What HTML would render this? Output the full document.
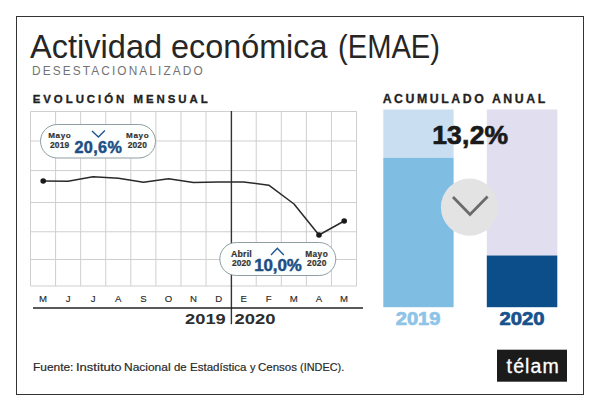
<!DOCTYPE html>
<html><head><meta charset="utf-8">
<style>
html,body{margin:0;padding:0;background:#fff;}
body{width:600px;height:400px;position:relative;overflow:hidden;font-family:"Liberation Sans",sans-serif;}
.frame{position:absolute;left:16px;top:16px;width:566px;height:377px;border:1.2px solid #333;}
.t{position:absolute;white-space:nowrap;line-height:1;}
</style></head><body>
<div class="frame"></div>
<div class="t" style="left:30.1px;top:30.71px;font-size:32.75px;color:#262626;transform:scaleX(0.994);transform-origin:0 0;">Actividad</div>
<div class="t" style="left:170.7px;top:30.71px;font-size:32.75px;color:#262626;transform:scaleX(0.988);transform-origin:0 0;">económica</div>
<div class="t" style="left:338.25px;top:30.71px;font-size:32.75px;color:#262626;transform:scaleX(0.89);transform-origin:0 0;">(EMAE)</div>
<div class="t" id="sub" style="left:31.98px;top:65.06px;font-size:12.75px;letter-spacing:2.270px;font-weight:normal;color:#737373;transform:scaleX(0.93);transform-origin:0 0;">DESESTACIONALIZADO</div>
<div class="t" id="evo" style="left:32.70px;top:94.09px;font-size:11.45px;letter-spacing:2.954px;font-weight:bold;color:#222;-webkit-text-stroke:0.3px #222;">EVOLUCIÓN MENSUAL</div>
<div class="t" id="acu" style="left:382.63px;top:93.16px;font-size:12.32px;letter-spacing:2.561px;font-weight:bold;color:#222;-webkit-text-stroke:0.3px #222;">ACUMULADO ANUAL</div>

<svg width="600" height="400" style="position:absolute;left:0;top:0">
  <g stroke="#cfcfcf" stroke-width="1" fill="none">
    <path d="M30.5 111.5H356.6M30.5 141H356.6M30.5 170.6H356.6M30.5 202.5H356.6M30.5 231.75H356.6M30.5 259.5H356.6M30.5 286H356.6"/>
    <path d="M30.50 111.5V286M55.58 111.5V286M80.66 111.5V286M105.74 111.5V286M130.82 111.5V286M155.90 111.5V286M180.98 111.5V286M206.06 111.5V286M256.22 111.5V286M281.30 111.5V286M306.38 111.5V286M331.46 111.5V286M356.54 111.5V286"/>
  </g>
  <path d="M231.4 111V324.2" stroke="#333" stroke-width="1.4"/>
  <path d="M33 308H363" stroke="#222" stroke-width="1.6"/>
  <polyline fill="none" stroke="#2a2a2a" stroke-width="1.5" stroke-linejoin="round" points="43.2,181 68,181.2 93,176.7 118.5,178.3 143.5,182.2 168.5,178.7 193.5,182.6 218.5,182 243.5,182 268.8,185.2 294,204 319,235 344.2,221"/>
  <circle cx="43.2" cy="181" r="2.8" fill="#1a1a1a"/>
  <circle cx="319" cy="235" r="2.8" fill="#1a1a1a"/>
  <circle cx="344.2" cy="221" r="2.8" fill="#1a1a1a"/>
  <rect x="40.5" y="124.5" width="115" height="33.5" rx="16.75" fill="#fdfefe" stroke="#8e9ea2" stroke-width="1"/>
  <rect x="219.8" y="242.5" width="116" height="33" rx="16.5" fill="#fdfefe" stroke="#8e9ea2" stroke-width="1"/>
  <path d="M92 131L98.4 137L104.9 130.5" fill="none" stroke="#1f5790" stroke-width="1.4"/>
  <path d="M271 255L277.3 248.2L283.8 255" fill="none" stroke="#1f5790" stroke-width="1.4"/>
  <rect x="383.3" y="109.5" width="70.3" height="48.3" fill="#c9dff1"/>
  <rect x="383.3" y="157.8" width="70.3" height="149.4" fill="#7fbde2"/>
  <rect x="486.8" y="109.5" width="70.5" height="146" fill="#e0deef"/>
  <rect x="486.8" y="255.5" width="70.5" height="51.7" fill="#0c4e8a"/>
  <circle cx="469.5" cy="207.2" r="28.6" fill="#e3e3e3"/>
  <path d="M453 197L470 214.4L487.6 196.4" fill="none" stroke="#6b6b6b" stroke-width="2.8"/>
  <rect x="497" y="349.7" width="70" height="32" fill="#1b1b1b"/>
</svg>
<div class="t" id="m1" style="left:48.18px;top:132.40px;font-size:8.12px;letter-spacing:0.622px;font-weight:bold;color:#333;-webkit-text-stroke:0.2px #333;">Mayo</div>
<div class="t" id="y1" style="left:50.00px;top:140.98px;font-size:8.45px;letter-spacing:0.165px;font-weight:bold;color:#333;-webkit-text-stroke:0.2px #333;">2019</div>
<div class="t" id="m1r" style="left:125.93px;top:132.40px;font-size:8.12px;letter-spacing:0.705px;font-weight:bold;color:#333;-webkit-text-stroke:0.2px #333;">Mayo</div>
<div class="t" id="y1r" style="left:127.75px;top:140.98px;font-size:8.45px;letter-spacing:0.111px;font-weight:bold;color:#333;-webkit-text-stroke:0.2px #333;">2020</div>
<div class="t" id="p1" style="left:74.51px;top:139.44px;font-size:16.20px;letter-spacing:0.368px;font-weight:bold;color:#1c4f85;-webkit-text-stroke:0.5px #1c4f85;">20,6%</div>

<div class="t" id="ab" style="left:230.99px;top:249.84px;font-size:8.82px;letter-spacing:0.191px;font-weight:bold;color:#333;-webkit-text-stroke:0.2px #333;">Abril</div>
<div class="t" id="y2" style="left:232.00px;top:258.98px;font-size:8.45px;letter-spacing:0.027px;font-weight:bold;color:#333;-webkit-text-stroke:0.2px #333;">2020</div>
<div class="t" id="m2" style="left:305.17px;top:250.95px;font-size:8.26px;letter-spacing:0.503px;font-weight:bold;color:#333;-webkit-text-stroke:0.2px #333;">Mayo</div>
<div class="t" id="y2r" style="left:307.00px;top:258.98px;font-size:8.45px;letter-spacing:0.194px;font-weight:bold;color:#333;-webkit-text-stroke:0.2px #333;">2020</div>
<div class="t" id="p2" style="left:254.24px;top:258.21px;font-size:16.90px;letter-spacing:-0.088px;font-weight:bold;color:#1c4f85;-webkit-text-stroke:0.5px #1c4f85;">10,0%</div>

<div class="t" id="big" style="left:432.16px;top:121.88px;font-size:26.48px;letter-spacing:0.234px;font-weight:bold;color:#1a1a1a;-webkit-text-stroke:0.7px #1a1a1a;">13,2%</div>
<div class="t" id="bar2019" style="left:395.72px;top:310.19px;font-size:20.14px;letter-spacing:0.000px;font-weight:bold;color:#8dc4e7;transform:scaleY(0.8744);transform-origin:0 0;-webkit-text-stroke:0.8px #8dc4e7;">2019</div>
<div class="t" id="bar2020" style="left:499.45px;top:309.50px;font-size:20.23px;letter-spacing:0.000px;font-weight:bold;color:#17528d;transform:scaleY(0.9051);transform-origin:0 0;-webkit-text-stroke:0.8px #17528d;">2020</div>
<div class="t" id="ax2019" style="left:185.06px;top:312.41px;font-size:18.29px;letter-spacing:0.000px;font-weight:bold;color:#2e2e2e;transform:scaleY(0.8086);transform-origin:0 0;-webkit-text-stroke:0.0px #2e2e2e;">2019</div>
<div class="t" id="ax2020" style="left:234.56px;top:312.41px;font-size:18.47px;letter-spacing:0.000px;font-weight:bold;color:#2e2e2e;transform:scaleY(0.8008);transform-origin:0 0;-webkit-text-stroke:0.0px #2e2e2e;">2020</div>

<div id="months" style="position:absolute;left:0;top:294.2px;font-size:9.6px;font-weight:normal;color:#2a2a2a;-webkit-text-stroke:0.15px #2a2a2a;"><div style="position:absolute;left:33.04px;width:20px;text-align:center;line-height:1;">M</div><div style="position:absolute;left:58.12px;width:20px;text-align:center;line-height:1;">J</div><div style="position:absolute;left:83.20px;width:20px;text-align:center;line-height:1;">J</div><div style="position:absolute;left:108.28px;width:20px;text-align:center;line-height:1;">A</div><div style="position:absolute;left:133.36px;width:20px;text-align:center;line-height:1;">S</div><div style="position:absolute;left:158.44px;width:20px;text-align:center;line-height:1;">O</div><div style="position:absolute;left:183.52px;width:20px;text-align:center;line-height:1;">N</div><div style="position:absolute;left:208.60px;width:20px;text-align:center;line-height:1;">D</div><div style="position:absolute;left:233.68px;width:20px;text-align:center;line-height:1;">E</div><div style="position:absolute;left:258.76px;width:20px;text-align:center;line-height:1;">F</div><div style="position:absolute;left:283.84px;width:20px;text-align:center;line-height:1;">M</div><div style="position:absolute;left:308.92px;width:20px;text-align:center;line-height:1;">A</div><div style="position:absolute;left:334.00px;width:20px;text-align:center;line-height:1;">M</div></div>
<div class="t" style="left:33.05px;top:361.05px;font-size:11.74px;font-weight:normal;color:#2a2a2a;transform:scaleX(1.0158);transform-origin:0 0;-webkit-text-stroke:0.2px #2a2a2a;">Fuente:</div>
<div class="t" style="left:75.53px;top:361.05px;font-size:11.74px;font-weight:normal;color:#2a2a2a;transform:scaleX(1.1096);transform-origin:0 0;-webkit-text-stroke:0.2px #2a2a2a;">Instituto</div>
<div class="t" style="left:123.94px;top:361.05px;font-size:11.74px;font-weight:normal;color:#2a2a2a;transform:scaleX(1.0199);transform-origin:0 0;-webkit-text-stroke:0.2px #2a2a2a;">Nacional</div>
<div class="t" style="left:173.85px;top:361.05px;font-size:11.74px;font-weight:normal;color:#2a2a2a;transform:scaleX(0.9676);transform-origin:0 0;-webkit-text-stroke:0.2px #2a2a2a;">de</div>
<div class="t" style="left:189.58px;top:361.05px;font-size:11.74px;font-weight:normal;color:#2a2a2a;transform:scaleX(0.9828);transform-origin:0 0;-webkit-text-stroke:0.2px #2a2a2a;">Estadística</div>
<div class="t" style="left:249.50px;top:361.05px;font-size:11.74px;font-weight:normal;color:#2a2a2a;transform:scaleX(0.9370);transform-origin:0 0;-webkit-text-stroke:0.2px #2a2a2a;">y</div>
<div class="t" style="left:258.42px;top:361.05px;font-size:11.74px;font-weight:normal;color:#2a2a2a;transform:scaleX(0.9808);transform-origin:0 0;-webkit-text-stroke:0.2px #2a2a2a;">Censos</div>
<div class="t" style="left:300.35px;top:361.05px;font-size:11.74px;font-weight:normal;color:#2a2a2a;transform:scaleX(0.9282);transform-origin:0 0;-webkit-text-stroke:0.2px #2a2a2a;">(INDEC).</div>
<div class="t" id="telam" style="left:506.61px;top:356.68px;font-size:19.50px;letter-spacing:1.110px;font-weight:normal;color:#fff;-webkit-text-stroke:0.3px #fff;">télam</div>

</body></html>
